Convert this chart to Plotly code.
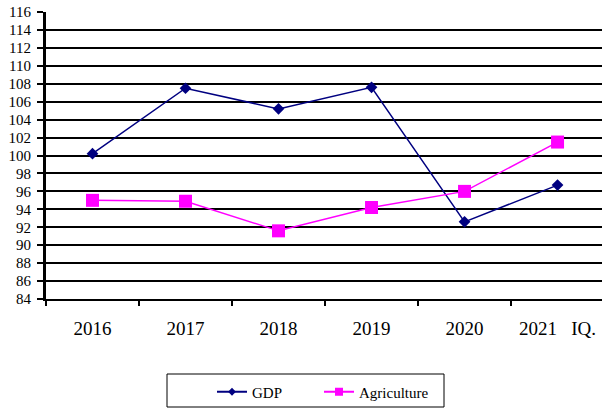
import plotly.graph_objects as go

years = ["2016", "2017", "2018", "2019", "2020", "2021\u00a0\u00a0\u00a0IQ."]
gdp = [100.2, 107.5, 105.2, 107.6, 92.6, 96.7]
agriculture = [95.0, 94.9, 91.6, 94.2, 96.0, 101.5]
y_ticks = list(range(84, 117, 2))

SERIF = "Liberation Serif"
NAVY = "#000080"
MAGENTA = "#FF00FF"

# plot area in pixels: left 46, right 602, top 12, bottom 299
PL, PR, PT, PB = 46, 602, 12, 299
def px_x(px):
    return (px - PL) / (PR - PL)
def px_y(py):
    return (PB - py) / (PB - PT)

fig = go.Figure()
fig.add_trace(go.Scatter(
    x=years, y=gdp, mode="lines+markers", name="GDP", showlegend=False,
    line=dict(color=NAVY, width=1.5),
    marker=dict(symbol="diamond", size=9, color=NAVY),
))
fig.add_trace(go.Scatter(
    x=years, y=agriculture, mode="lines+markers", name="Agriculture", showlegend=False,
    line=dict(color=MAGENTA, width=1.5),
    marker=dict(symbol="square", size=13, color=MAGENTA),
))
# legend entries (smaller markers like the original legend)
fig.add_trace(go.Scatter(
    x=[None], y=[None], mode="lines+markers", name="GDP", legend="legend",
    line=dict(color=NAVY, width=2),
    marker=dict(symbol="diamond", size=6, color=NAVY),
))
fig.add_trace(go.Scatter(
    x=[None], y=[None], mode="lines+markers", name="Agriculture", legend="legend2",
    line=dict(color=MAGENTA, width=2),
    marker=dict(symbol="square", size=8, color=MAGENTA),
))

# legend frame
fig.add_shape(
    type="rect", xref="paper", yref="paper",
    x0=px_x(167), x1=px_x(444), y0=px_y(407), y1=px_y(374),
    line=dict(color="black", width=1), fillcolor="white", layer="below",
)

legend_common = dict(
    orientation="h", xanchor="left", yanchor="middle", y=px_y(392),
    borderwidth=0, bgcolor="rgba(0,0,0,0)",
    font=dict(family=SERIF, size=15, color="black"),
)

fig.update_layout(
    width=602, height=409,
    margin=dict(l=PL, r=602 - PR, t=PT, b=409 - PB, autoexpand=False),
    paper_bgcolor="white", plot_bgcolor="white",
    font=dict(family=SERIF, color="black"),
    xaxis=dict(
        type="category", categoryorder="array", categoryarray=years,
        range=[-0.5, 5.478], automargin=False,
        tickson="boundaries", ticks="outside", ticklen=5, tickwidth=2, tickcolor="black",
        showline=True, linecolor="black", linewidth=2,
        showgrid=False, zeroline=False,
        tickfont=dict(family=SERIF, size=19, color="black"),
        ticklabelstandoff=11,
    ),
    yaxis=dict(
        range=[84, 116], tickvals=y_ticks, ticktext=[str(v) for v in y_ticks],
        automargin=False,
        ticks="outside", ticklen=6, tickwidth=2, tickcolor="black",
        showline=True, linecolor="black", linewidth=3,
        showgrid=True, gridcolor="black", gridwidth=2,
        zeroline=False,
        tickfont=dict(family=SERIF, size=15, color="black"),
        ticklabelstandoff=3,
    ),
    legend=dict(x=px_x(212), **legend_common),
    legend2=dict(x=px_x(319), **legend_common),
)

fig.write_html(
    "out.html",
    config={"displayModeBar": False},
    post_script="document.body.style.margin='0';document.body.style.overflow='hidden';",
)
